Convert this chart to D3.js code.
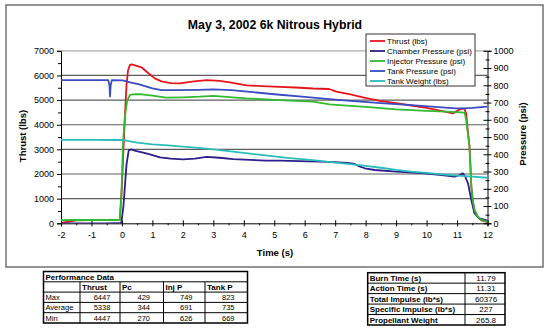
<!DOCTYPE html>
<html><head><meta charset="utf-8">
<script src="https://cdn.jsdelivr.net/npm/d3@7/dist/d3.min.js"></script>
<style>
html,body{margin:0;padding:0;background:#fff;}
svg{display:block;font-family:"Liberation Sans",Arial,sans-serif;}
</style></head>
<body>
<svg id="chart" width="550" height="329"></svg>
<script>
// ---------- DATA ----------
const title = "May 3, 2002 6k Nitrous Hybrid";
const xTicks = [-2,-1,0,1,2,3,4,5,6,7,8,9,10,11,12];
const leftTicks = [0,1000,2000,3000,4000,5000,6000,7000];
const rightTicks = [0,100,200,300,400,500,600,700,800,900,1000];

const thrustT = [-2,-1.8,-1.5,-1.0,-0.5,-0.07,0.0,0.05,0.1,0.15,0.2,0.26,0.32,0.4,0.64,0.86,1.08,1.3,1.6,1.9,2.3,2.78,3.2,3.54,4.09,4.6,5.18,5.7,6.27,6.8,7.04,7.5,7.91,8.46,9.0,9.55,10.0,10.32,10.6,10.86,11.03,11.17,11.25,11.3,11.35,11.41,11.47,11.52,11.57,11.68,11.8,12.0];
const thrustV = [20,60,120,130,130,150,1500,3000,4400,5600,6200,6420,6447,6420,6330,6100,5880,5760,5690,5680,5750,5810,5780,5720,5600,5570,5540,5510,5470,5450,5340,5230,5110,4970,4880,4770,4680,4600,4530,4460,4580,4660,4620,4450,3800,3100,1480,900,540,260,120,50];

const chamberT = [-2,-0.5,-0.02,0.05,0.1,0.15,0.22,0.3,0.45,0.7,0.92,1.25,1.6,2.0,2.4,2.78,3.2,3.65,4.2,4.74,5.18,5.8,6.49,6.98,7.4,7.64,7.8,7.97,8.3,9.0,9.93,10.5,10.92,11.1,11.19,11.27,11.36,11.47,11.57,11.74,12.0];
const chamberV = [0,0,2,100,220,340,420,429,420,410,400,382,375,371,375,385,380,372,368,363,363,360,357,355,350,344,330,319,309,300,290,280,270,280,290,270,232,135,58,29,15];

const injectorT = [-2,-1.5,-0.5,-0.07,-0.02,0.04,0.1,0.17,0.26,0.45,0.64,1.0,1.46,2.0,2.56,3.0,3.64,4.09,4.6,5.18,5.7,6.27,6.82,7.15,8.0,9.0,10.0,10.64,11.0,11.25,11.3,11.35,11.41,11.47,11.52,11.57,11.68,11.8,12.0];
const injectorV = [18,19,19,20,150,480,620,710,745,749,748,740,728,730,734,739,730,724,720,714,710,705,689,685,675,660,652,647,644,641,600,530,444,212,130,77,38,20,8];

const tankPT = [-2,-1.0,-0.45,-0.41,-0.39,-0.37,-0.33,0.03,0.3,0.54,1.0,1.3,1.9,2.5,3.0,3.6,4.2,5.0,6.0,6.82,7.5,8.5,9.5,10.5,10.98,11.2,11.5,12.0];
const tankPV = [830,830,830,800,735,800,830,829,815,807,782,772,772,774,776,772,762,748,733,720,710,697,685,672,666,666,669,676];

const tankWT = [-2,-1.0,-0.2,0.0,0.5,1.0,1.5,2.0,2.5,3.0,3.5,4.0,4.5,5.0,5.5,6.0,6.5,7.0,7.5,8.0,8.5,9.0,9.5,10.0,10.5,11.0,11.5,12.0];
const tankWV = [484,484,483,483,468,458,452,444,437,428,418,408,398,388,378,370,362,352,343,333,322,310,300,292,284,276,270,264];

const seriesNames = ["Thrust (lbs)","Chamber Pressure (psi)","Injector Pressure (psi)","Tank Pressure (psi)","Tank Weight (lbs)"];
const seriesColors = ["#e8141b","#2c1f8c","#2fba2f","#3a4cc2","#2bbcbc"];

const perfTitle = "Performance Data";
const perfHeaders = ["Thrust","Pc","Inj P","Tank P"];
const perfRowLabels = ["Max","Average","Min"];
const perfThrust = [6447,5338,4447];
const perfPc = [429,344,270];
const perfInj = [749,691,626];
const perfTank = [823,735,669];

const sumLabels = ["Burn Time (s)","Action Time (s)","Total Impulse (lb*s)","Specific Impulse (lb*s)","Propellant Weight"];
const sumValues = ["11.79","11.31","60376","227","265.8"];

// ---------- CHART ----------
const svg = d3.select("#chart");
const L = 61, R = 487.5, T = 50.8, B = 223.3;
const x = d3.scaleLinear().domain([-2,12]).range([L,R]);
const yL = d3.scaleLinear().domain([0,7000]).range([B,T]);
const yR = d3.scaleLinear().domain([0,1000]).range([B,T]);
const fmt = d => String(d);

// chart area border
svg.append("rect").attr("x",6).attr("y",5).attr("width",537).attr("height",262)
  .attr("fill","#fff").attr("stroke","#7a7a7a").attr("stroke-width",1.6);

// title
svg.append("text").attr("x",275).attr("y",28.5).attr("text-anchor","middle")
  .attr("font-size",12.3).attr("font-weight","bold").text(title);

// top border of plot
svg.append("line").attr("x1",L).attr("x2",R).attr("y1",T).attr("y2",T)
  .attr("stroke","#aaa").attr("stroke-width",1.2);
// gridlines
svg.append("g").selectAll("line").data(leftTicks.filter(d=>d>0 && d<7000)).join("line")
  .attr("x1",L).attr("x2",R).attr("y1",d=>yL(d)).attr("y2",d=>yL(d))
  .attr("stroke","#5e5e5e").attr("stroke-width",1.2);

// left axis
const gL = svg.append("g").attr("transform",`translate(${L},0)`)
  .call(d3.axisLeft(yL).tickValues(leftTicks).tickSize(4).tickPadding(3).tickFormat(fmt));
gL.selectAll("text").attr("font-size",9).attr("fill","#000").attr("font-family","Liberation Sans, Arial, sans-serif");
gL.select(".domain").attr("stroke","#000");
gL.selectAll(".tick line").attr("stroke","#000");
svg.append("g").attr("transform",`translate(${L},0)`)
  .call(d3.axisLeft(yL).tickValues(d3.range(500,7000,1000)).tickSize(3).tickFormat(""))
  .call(g=>g.select(".domain").remove()).selectAll("line").attr("stroke","#000");

// right axis
const gR = svg.append("g").attr("transform",`translate(${R},0)`)
  .call(d3.axisRight(yR).tickValues(rightTicks).tickSize(4).tickPadding(2).tickFormat(fmt));
gR.selectAll("text").attr("font-size",9).attr("fill","#000").attr("font-family","Liberation Sans, Arial, sans-serif");
gR.select(".domain").attr("stroke","#000");
gR.selectAll(".tick line").attr("x1",-4).attr("stroke","#000");
svg.append("g").attr("transform",`translate(${R},0)`)
  .call(d3.axisRight(yR).tickValues(d3.range(50,1000,100)).tickSize(2).tickFormat(""))
  .call(g=>g.select(".domain").remove()).selectAll("line").attr("x1",-2).attr("stroke","#000");

// x axis
const gX = svg.append("g").attr("transform",`translate(0,${B})`)
  .call(d3.axisBottom(x).tickValues(xTicks).tickSize(3).tickPadding(5).tickFormat(fmt));
gX.selectAll("text").attr("font-size",9).attr("fill","#000").attr("font-family","Liberation Sans, Arial, sans-serif");
gX.select(".domain").attr("stroke","#000");
gX.selectAll(".tick line").attr("y1",-3).attr("stroke","#000");
svg.append("g").attr("transform",`translate(0,${B})`)
  .call(d3.axisBottom(x).tickValues(d3.range(-1.5,12,1)).tickSize(2).tickFormat(""))
  .call(g=>g.select(".domain").remove()).selectAll("line").attr("stroke","#000");

// axis titles
svg.append("text").attr("transform","translate(25.5,136) rotate(-90)").attr("text-anchor","middle")
  .attr("font-size",9.5).attr("font-weight","bold").text("Thrust (lbs)");
svg.append("text").attr("transform","translate(526,134) rotate(-90)").attr("text-anchor","middle")
  .attr("font-size",9.5).attr("font-weight","bold").text("Pressure (psi)");
svg.append("text").attr("x",275).attr("y",256).attr("text-anchor","middle")
  .attr("font-size",9.5).attr("font-weight","bold").text("Time (s)");

// clip
svg.append("clipPath").attr("id","clip").append("rect")
  .attr("x",L).attr("y",T-2).attr("width",R-L).attr("height",B-T+2);

const series = [
  {t:thrustT, v:thrustV, y:yL},
  {t:chamberT, v:chamberV, y:yR},
  {t:injectorT, v:injectorV, y:yR},
  {t:tankPT, v:tankPV, y:yR},
  {t:tankWT, v:tankWV, y:yR}
];
const gLines = svg.append("g").attr("clip-path","url(#clip)");
series.forEach((s,i)=>{
  const pts = s.t.map((t,j)=>[t,s.v[j]]);
  const line = d3.line().x(d=>x(d[0])).y(d=>s.y(d[1]));
  gLines.append("path").datum(pts).attr("d",line).attr("fill","none")
    .attr("stroke",seriesColors[i]).attr("stroke-width",1.8).attr("stroke-linejoin","round");
});

// legend
const lg = svg.append("g");
lg.append("rect").attr("x",366).attr("y",34).attr("width",109).attr("height",52)
  .attr("fill","#fff").attr("stroke","#333").attr("stroke-width",1);
seriesNames.forEach((n,i)=>{
  const yy = 41 + i*10;
  lg.append("line").attr("x1",370).attr("x2",385).attr("y1",yy).attr("y2",yy)
    .attr("stroke",seriesColors[i]).attr("stroke-width",1.8);
  lg.append("text").attr("x",387).attr("y",yy).attr("dy","0.35em")
    .attr("font-size",8).text(n);
});

// ---------- TABLE 1 ----------
const t1 = svg.append("g");
const c1 = [43.5,80,120,163.5,205,247.5];
const r1 = [271.5,281.8,292.1,302.4,312.7,323];
t1.append("rect").attr("x",c1[0]).attr("y",r1[0]).attr("width",c1[5]-c1[0]).attr("height",r1[5]-r1[0])
  .attr("fill","#fff").attr("stroke","#000").attr("stroke-width",1.5);
for(let i=1;i<5;i++) t1.append("line").attr("x1",c1[0]).attr("x2",c1[5]).attr("y1",r1[i]).attr("y2",r1[i]).attr("stroke","#000").attr("stroke-width",1);
for(let i=1;i<5;i++) t1.append("line").attr("x1",c1[i]).attr("x2",c1[i]).attr("y1",r1[1]).attr("y2",r1[5]).attr("stroke","#000").attr("stroke-width",1);
t1.append("text").attr("x",c1[0]+2).attr("y",r1[0]+8).attr("font-size",8).attr("font-weight","bold").text(perfTitle);
perfHeaders.forEach((h,i)=>{
  t1.append("text").attr("x",c1[i+1]+2).attr("y",r1[1]+8).attr("font-size",8).attr("font-weight","bold").text(h);
});
const perfCols = [perfThrust,perfPc,perfInj,perfTank];
perfRowLabels.forEach((lab,r)=>{
  const yy = r1[r+2]+8;
  t1.append("text").attr("x",c1[0]+2).attr("y",yy).attr("font-size",7.5).text(lab);
  perfCols.forEach((col,c)=>{
    t1.append("text").attr("x",(c1[c+1]+c1[c+2])/2+2).attr("y",yy).attr("text-anchor","middle")
      .attr("font-size",7.5).text(col[r]);
  });
});

// ---------- TABLE 2 ----------
const t2 = svg.append("g");
const c2 = [367.7,465,505];
const r2 = d3.range(6).map(i=>272.7+i*10.46);
t2.append("rect").attr("x",c2[0]).attr("y",r2[0]).attr("width",c2[2]-c2[0]).attr("height",r2[5]-r2[0])
  .attr("fill","#fff").attr("stroke","#000").attr("stroke-width",1.5);
for(let i=1;i<5;i++) t2.append("line").attr("x1",c2[0]).attr("x2",c2[2]).attr("y1",r2[i]).attr("y2",r2[i]).attr("stroke","#000").attr("stroke-width",1);
t2.append("line").attr("x1",c2[1]).attr("x2",c2[1]).attr("y1",r2[0]).attr("y2",r2[5]).attr("stroke","#000").attr("stroke-width",1);
sumLabels.forEach((lab,i)=>{
  t2.append("text").attr("x",c2[0]+2).attr("y",r2[i]+8.3).attr("font-size",8).attr("font-weight","bold").text(lab);
  t2.append("text").attr("x",(c2[1]+c2[2])/2+1).attr("y",r2[i]+8.3).attr("text-anchor","middle").attr("font-size",8).text(sumValues[i]);
});
</script>
</body></html>
